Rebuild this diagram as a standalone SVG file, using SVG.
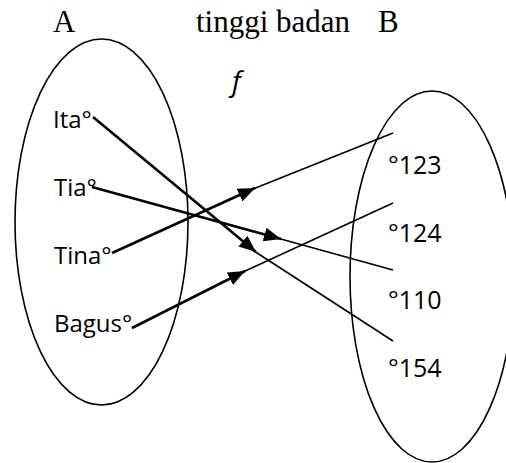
<svg xmlns="http://www.w3.org/2000/svg" width="506" height="463" viewBox="0 0 506 463">
<style>
.set{fill:none;stroke:#000;stroke-width:1.6}
.title{font-family:"Liberation Serif","Times New Roman",serif;font-size:31px;fill:#000}
.lbl{font-family:"Open Sans","Liberation Sans",sans-serif;font-size:24px;fill:#000}
.num{font-family:"Open Sans","Liberation Sans",sans-serif;font-size:25px;fill:#000}
.fn{font-family:"Open Sans","Liberation Sans",sans-serif;font-size:28px;font-style:italic;fill:#000}
.thick{stroke:#000;stroke-width:2.6;fill:none;marker-end:url(#arr)}
.thin{stroke:#000;stroke-width:1.6;fill:none}
</style>
<defs>
<marker id="arr" markerUnits="userSpaceOnUse" markerWidth="18" markerHeight="14" refX="17" refY="7" orient="auto">
<path d="M0,0 L17,7 L0,14 Z" fill="#000"/>
</marker>
</defs>
<rect width="506" height="463" fill="#fff"/>
<g id="title-A"><text class="title" x="53" y="32">A</text></g>
<g id="title-mid"><text class="title" x="196" y="32">tinggi badan</text></g>
<g id="title-B"><text class="title" x="378" y="32">B</text></g>
<g id="label-f"><text class="fn" x="232" y="91">f</text></g>
<g id="setA"><ellipse class="set" cx="101.5" cy="222" rx="86.5" ry="183"/></g>
<g id="setB"><ellipse class="set" cx="432" cy="276.5" rx="82" ry="185.5"/></g>
<g id="node-ita"><text class="lbl" x="53" y="128">Ita°</text></g>
<g id="node-tia"><text class="lbl" x="54" y="196">Tia°</text></g>
<g id="node-tina"><text class="lbl" x="54" y="264">Tina°</text></g>
<g id="node-bagus"><text class="lbl" x="54" y="332">Bagus°</text></g>
<g id="node-123"><text class="num" x="388" y="174">°123</text></g>
<g id="node-124"><text class="num" x="388" y="242">°124</text></g>
<g id="node-110"><text class="num" x="388" y="309">°110</text></g>
<g id="node-154"><text class="num" x="388" y="377">°154</text></g>
<g id="connectors">
<line class="thick" x1="93" y1="117" x2="256" y2="252"/>
<line class="thin" x1="254" y1="251" x2="393" y2="341"/>
<line class="thick" x1="92" y1="187" x2="281" y2="239"/>
<line class="thin" x1="279" y1="238.5" x2="393" y2="270"/>
<line class="thick" x1="112" y1="253" x2="255" y2="188"/>
<line class="thin" x1="253" y1="189" x2="393" y2="133"/>
<line class="thick" x1="132" y1="328" x2="245" y2="271"/>
<line class="thin" x1="243" y1="272" x2="393" y2="203"/>
</g>
</svg>
